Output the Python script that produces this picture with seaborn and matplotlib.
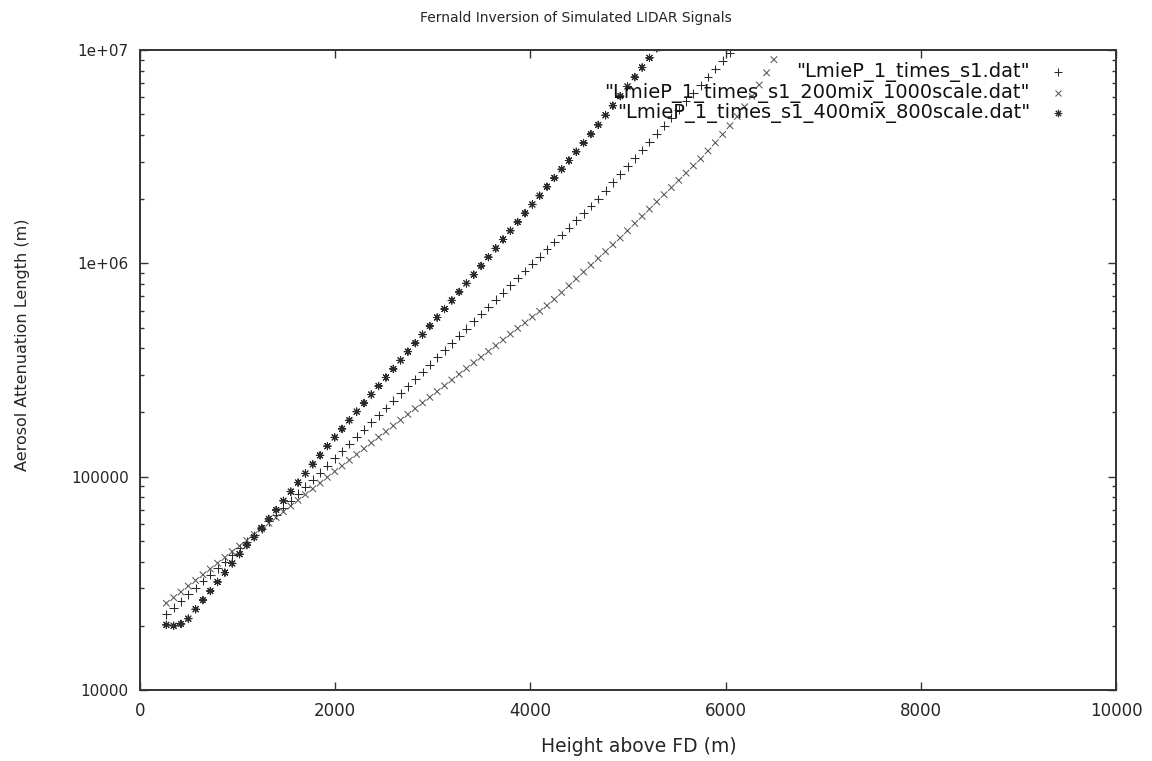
import matplotlib
matplotlib.use("Agg")
import matplotlib.pyplot as plt
import pandas as pd
import seaborn as sns

# height grid (m) shared by all three inversions
heights = [
    270, 345, 420, 495, 570, 645, 720, 795, 870, 945,
    1020, 1095, 1170, 1245, 1320, 1395, 1470, 1545, 1620, 1695,
    1770, 1845, 1920, 1995, 2070, 2145, 2220, 2295, 2370, 2445,
    2520, 2595, 2670, 2745, 2820, 2895, 2970, 3045, 3120, 3195,
    3270, 3345, 3420, 3495, 3570, 3645, 3720, 3795, 3870, 3945,
    4020, 4095, 4170, 4245, 4320, 4395, 4470, 4545, 4620, 4695,
    4770, 4845, 4920, 4995, 5070, 5145, 5220, 5295, 5370, 5445,
    5520, 5595, 5670, 5745, 5820, 5895, 5970, 6045, 6120, 6195,
    6270, 6345, 6420, 6495, 6570,
]

# aerosol attenuation length (m)
s1 = [
    22600, 24300, 26100, 28100, 30100, 32400, 34700, 37200, 40000, 43000,
    46100, 49500, 53200, 57100, 61700, 66400, 71600, 77100, 83200, 89700,
    96600, 104200, 112700, 121900, 131500, 142200, 153800, 166300, 179900, 194100,
    209900, 227000, 245500, 265500, 286400, 309700, 335000, 362200, 391700, 422700,
    457100, 494300, 534600, 578100, 623700, 674500, 729500, 788900, 853100, 920400,
    995400, 1.076e6, 1.164e6, 1.259e6, 1.358e6, 1.469e6, 1.589e6, 1.718e6, 1.858e6, 2.004e6,
    2.193e6, 2.393e6, 2.612e6, 2.851e6, 3.112e6, 3.396e6, 3.707e6, 4.046e6, 4.416e6, 4.819e6,
    5.260e6, 5.741e6, 6.266e6, 6.839e6, 7.464e6, 8.147e6, 8.892e6, 9.705e6, 1.059e7,
]
mix200_scale1000 = [
    25500, 27100, 28800, 30700, 32600, 34700, 36900, 39300, 41800, 44500,
    47300, 50200, 53500, 56900, 60500, 64400, 68500, 72800, 77400, 82400,
    87700, 93300, 99300, 105700, 112200, 119400, 127100, 135200, 143900, 153100,
    162600, 173000, 184100, 195900, 208400, 221800, 235500, 250600, 266700, 283800,
    302000, 321400, 342000, 363100, 386400, 411100, 437500, 465600, 495500, 526000,
    559800, 595700, 633900, 677600, 729500, 785200, 845300, 909900, 979500, 1.054e6,
    1.135e6, 1.222e6, 1.315e6, 1.422e6, 1.538e6, 1.660e6, 1.795e6, 1.941e6, 2.099e6, 2.265e6,
    2.449e6, 2.649e6, 2.864e6, 3.090e6, 3.365e6, 3.673e6, 4.018e6, 4.416e6, 4.875e6, 5.420e6,
    6.067e6, 6.855e6, 7.816e6, 9.016e6, 1.047e7,
]
mix400_scale800 = [
    20200, 20000, 20400, 21600, 23900, 26400, 29100, 32100, 35500, 39200,
    43300, 47800, 52000, 57400, 63400, 69800, 77100, 85100, 93800, 103500,
    114300, 125900, 139000, 152800, 167500, 183700, 201800, 221300, 242700, 266100,
    291700, 319900, 350800, 385500, 422700, 463400, 508200, 557200, 610900, 669900,
    734500, 805400, 885100, 972700, 1.069e6, 1.175e6, 1.294e6, 1.422e6, 1.563e6, 1.718e6,
    1.888e6, 2.075e6, 2.286e6, 2.512e6, 2.761e6, 3.034e6, 3.334e6, 3.664e6, 4.036e6, 4.457e6,
    4.943e6, 5.483e6, 6.081e6, 6.745e6, 7.464e6, 8.279e6, 9.183e6, 1.019e7,
]

labels = [
    '"LmieP_1_times_s1.dat"',
    '"LmieP_1_times_s1_200mix_1000scale.dat"',
    '"LmieP_1_times_s1_400mix_800scale.dat"',
]
x_ticks = [0, 2000, 4000, 6000, 8000, 10000]
y_ticks = [1e4, 1e5, 1e6, 1e7]
y_tick_labels = ["10000", "100000", "1e+06", "1e+07"]

markers = {labels[0]: "+", labels[1]: "x", labels[2]: (8, 2, 0)}
colors = {labels[0]: "#2b2b2b", labels[1]: "#595959", labels[2]: "#2b2b2b"}
sizes = {labels[0]: 40, labels[1]: 22, labels[2]: 28}

frames = []
for label, values in zip(labels, [s1, mix200_scale1000, mix400_scale800]):
    frames.append(pd.DataFrame({"height": heights[:len(values)], "length": values, "file": label}))
df = pd.concat(frames, ignore_index=True)

sns.set_style("ticks")
plt.rcParams["font.family"] = ["DejaVu Sans"]

fig = plt.figure(figsize=(11.52, 7.61), dpi=100)
ax = fig.add_axes([140 / 1152, 1 - 690 / 761, 976 / 1152, 640 / 761])

sns.scatterplot(
    data=df, x="height", y="length", hue="file", style="file", size="file",
    markers=markers, palette=colors, sizes=sizes, linewidth=0.75,
    legend=False, ax=ax,
)

ax.set_yscale("log")
ax.set_xlim(0, 10000)
ax.set_ylim(1e4, 1e7)
ax.set_xticks(x_ticks)
ax.set_xticklabels([str(t) for t in x_ticks])
ax.set_yticks(y_ticks)
ax.set_yticklabels(y_tick_labels)
ax.tick_params(which="both", direction="in", top=True, right=True, color="#333333")
ax.tick_params(which="major", length=6, width=1.0, pad=9)
ax.tick_params(which="minor", length=3, width=1.0)
ax.tick_params(axis="x", which="minor", bottom=False, top=False)
ax.tick_params(axis="x", labelsize=12)
ax.tick_params(axis="y", labelsize=11, pad=8)
for spine in ax.spines.values():
    spine.set_linewidth(1.4)
    spine.set_color("#333333")

ax.set_xlabel("Height above FD (m)", fontsize=13.5, va="top")
ax.xaxis.set_label_coords(0.511, -0.073)
ax.set_ylabel("Aerosol Attenuation Length (m)", fontsize=11.5)
ax.yaxis.set_label_coords(-0.113, 0.539)
fig.suptitle("Fernald Inversion of Simulated LIDAR Signals", x=0.5, y=0.985, fontsize=10)

# gnuplot-style key: right-aligned text, symbol to its right
key_rows = [0.9656, 0.9328, 0.9016]
for lab, yk in zip(labels, key_rows):
    ax.text(0.912, yk, lab, transform=ax.transAxes, ha="right", va="center",
            fontsize=14, color="#111111")
    ax.plot([0.9406], [yk], transform=ax.transAxes, linestyle="none",
            marker=markers[lab], color=colors[lab], markersize=sizes[lab] ** 0.5,
            markeredgewidth=0.75, clip_on=False)

fig.savefig("out.png", dpi=100)
